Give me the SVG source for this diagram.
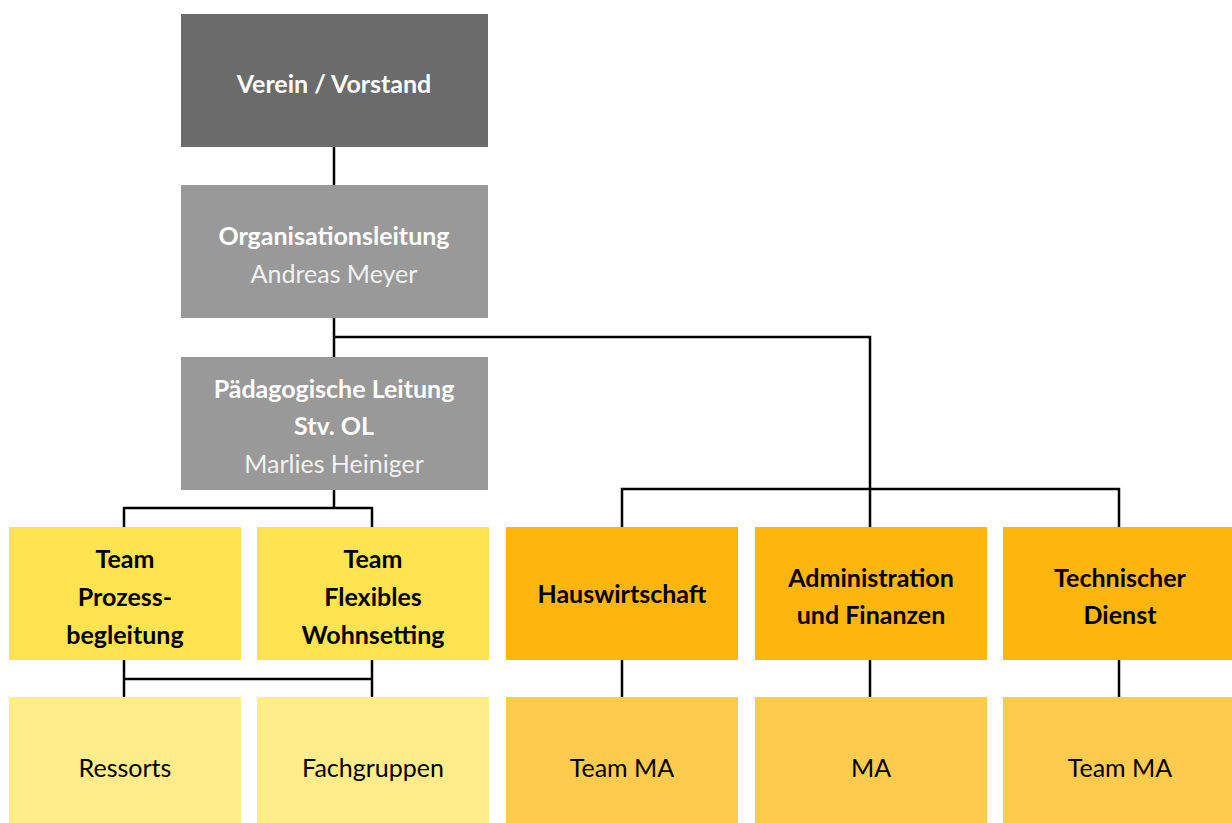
<svg xmlns="http://www.w3.org/2000/svg" width="1232" height="823" viewBox="0 0 1232 823">
<style>
text{font-family:Lato,"Liberation Sans",sans-serif;font-size:25px;text-anchor:middle}
.b{font-weight:bold}
.w{fill:#ffffff}
.lw{fill:#f2f2f2}
.k{fill:#000000}
.dk{fill:#6b6b6b}
.gy{fill:#999999}
.y1{fill:#ffe34f}
.y2{fill:#ffec8a}
.o1{fill:#fdb60b}
.o2{fill:#fecb4f}
.c{stroke:#000;stroke-width:2.5;fill:none}
</style>
<rect width="1232" height="823" fill="#ffffff"/>
<g id="connectors" class="c">
<path d="M334 147V185"/>
<path d="M334 318V357"/>
<path d="M334 337H870V527"/>
<path d="M622 527V489H1119V527"/>
<path d="M334 490V508"/>
<path d="M124 527V508H372V527"/>
<path d="M124 660V697"/>
<path d="M372 660V697"/>
<path d="M124 679H372"/>
<path d="M622 660V697"/>
<path d="M870 660V697"/>
<path d="M1119 660V697"/>
</g>
<g id="vorstand"><rect class="dk" x="181" y="14" width="307" height="133"/><text class="b w" x="334" y="93">Verein / Vorstand</text></g>
<g id="ol"><rect class="gy" x="181" y="185" width="307" height="133"/><text class="b w" x="334" y="245">Organisationsleitung</text><text class="lw" x="334" y="283">Andreas Meyer</text></g>
<g id="pl"><rect class="gy" x="181" y="357" width="307" height="133"/><text class="b w" x="334" y="398">Pädagogische Leitung</text><text class="b w" x="334" y="435">Stv. OL</text><text class="lw" x="334" y="473">Marlies Heiniger</text></g>
<g id="prozess"><rect class="y1" x="9" y="527" width="232" height="133"/><text class="b k" x="125" y="568">Team</text><text class="b k" x="125" y="606">Prozess-</text><text class="b k" x="125" y="644">begleitung</text></g>
<g id="flexibel"><rect class="y1" x="257" y="527" width="232" height="133"/><text class="b k" x="373" y="568">Team</text><text class="b k" x="373" y="606">Flexibles</text><text class="b k" x="373" y="644">Wohnsetting</text></g>
<g id="haus"><rect class="o1" x="506" y="527" width="232" height="133"/><text class="b k" x="622" y="603">Hauswirtschaft</text></g>
<g id="admin"><rect class="o1" x="755" y="527" width="232" height="133"/><text class="b k" x="871" y="587">Administration</text><text class="b k" x="871" y="624">und Finanzen</text></g>
<g id="tech"><rect class="o1" x="1003" y="527" width="229" height="133"/><text class="b k" x="1120" y="587">Technischer</text><text class="b k" x="1120" y="624">Dienst</text></g>
<g id="ressorts"><rect class="y2" x="9" y="697" width="232" height="126"/><text class="k" x="125" y="777">Ressorts</text></g>
<g id="fach"><rect class="y2" x="257" y="697" width="232" height="126"/><text class="k" x="373" y="777">Fachgruppen</text></g>
<g id="teamma1"><rect class="o2" x="506" y="697" width="232" height="126"/><text class="k" x="622" y="777">Team MA</text></g>
<g id="ma"><rect class="o2" x="755" y="697" width="232" height="126"/><text class="k" x="871" y="777">MA</text></g>
<g id="teamma2"><rect class="o2" x="1003" y="697" width="229" height="126"/><text class="k" x="1120" y="777">Team MA</text></g>
</svg>
